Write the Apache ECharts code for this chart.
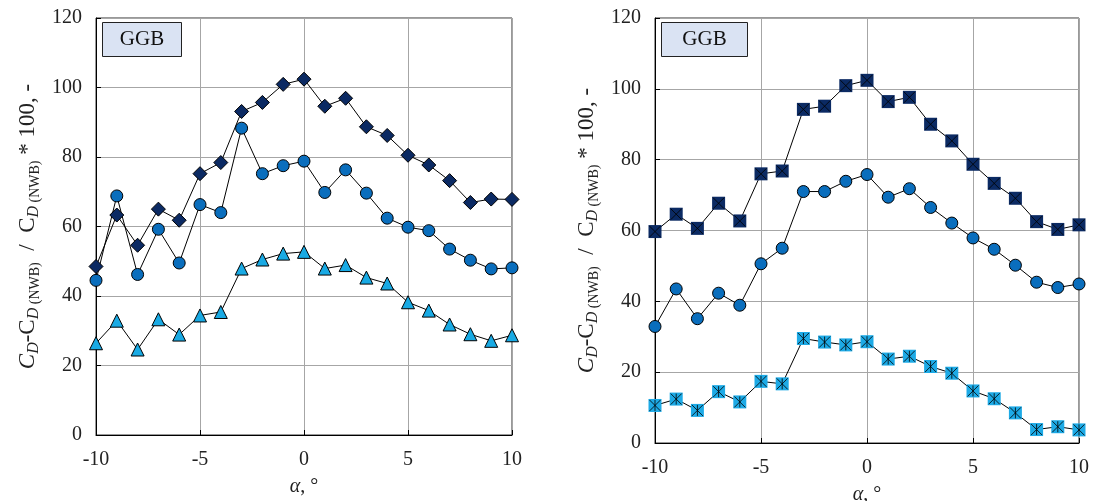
<!DOCTYPE html>
<html><head><meta charset="utf-8">
<script src="https://cdn.jsdelivr.net/npm/echarts@6/dist/echarts.min.js"></script>
<style>html,body{margin:0;padding:0;background:#fff}#c{width:1094px;height:501px}</style>
</head><body><div id="c"></div>
<script>
const alpha = [-10,-9,-8,-7,-6,-5,-4,-3,-2,-1,0,1,2,3,4,5,6,7,8,9,10];
const xTicks = [-10,-5,0,5,10];
const yTicks = [0,20,40,60,80,100,120];
const panelLabel = 'GGB';
// Left panel
const leftDiamond = [48.5,63.3,54.6,65,61.8,75.2,78.4,93.1,95.7,100.9,102.4,94.6,96.9,88.7,86.2,80.5,77.7,73.2,66.9,67.9,67.8];
const leftCircle  = [44.5,68.8,46.2,59.2,49.5,66.3,64,88.3,75.2,77.5,78.8,69.8,76.3,69.6,62.4,59.8,58.8,53.5,50.3,47.8,48.1];
const leftTri     = [26.4,32.9,24.6,33.3,28.9,34.4,35.4,47.9,50.5,52.2,52.7,47.9,48.9,45.3,43.6,38.2,35.8,31.8,29,27.1,28.7];
// Right panel
const rightSquareDark  = [59.7,64.6,60.6,67.7,62.7,76,76.8,94.2,95.1,100.9,102.4,96.4,97.6,90,85.3,78.7,73.3,69.1,62.5,60.3,61.6];
const rightCircle      = [32.9,43.5,35.1,42.3,38.9,50.6,55,71,71,73.9,75.8,69.4,71.8,66.5,62.1,57.9,54.7,50.2,45.4,43.9,44.9];
const rightSquareLight = [10.6,12.4,9.2,14.5,11.6,17.4,16.7,29.5,28.5,27.7,28.6,23.7,24.5,21.6,19.7,14.7,12.5,8.5,3.8,4.6,3.7];

const FONT = 'Liberation Serif';
const pairs = arr => alpha.map((a,i)=>[a,arr[i]]);

function xAxisCfg(gi){
  return {type:'value', gridIndex:gi, min:-10, max:10, interval:5,
    axisLine:{show:true,onZero:false,lineStyle:{color:'#000',width:1}},
    axisTick:{show:true,inside:true,length:5,lineStyle:{color:'#000'}},
    axisLabel:{color:'#222',fontFamily:FONT,fontSize:20,margin:15,formatter:v=>String(v)},
    splitLine:{show:true,lineStyle:{color:'#a6a6a6',width:1}},
    name:'{a|α}{n|, °}', nameLocation:'middle', nameGap:42,
    nameTextStyle:{rich:{a:{fontFamily:FONT,fontStyle:'italic',fontSize:20,color:'#222'},n:{fontFamily:FONT,fontSize:20,color:'#222'}}}
  };
}
function yAxisCfg(gi){
  return {type:'value', gridIndex:gi, min:0, max:120, interval:20,
    axisLine:{show:true,onZero:false,lineStyle:{color:'#000',width:1}},
    axisTick:{show:true,inside:true,length:5,lineStyle:{color:'#000'}},
    axisLabel:{color:'#222',fontFamily:FONT,fontSize:20,margin:14},
    splitLine:{show:true,lineStyle:{color:'#a6a6a6',width:1}},
    name:'{i|C}{s|D}{n|-C}{s|D}{ss| (NWB)}{n|  /  C}{s|D}{ss| (NWB)}{n| * 100, -}',
    nameLocation:'middle', nameGap:54, nameRotate:90,
    nameTextStyle:{rich:{
      i:{fontFamily:FONT,fontStyle:'italic',fontSize:23,color:'#222',lineHeight:28,verticalAlign:'middle'},
      n:{fontFamily:FONT,fontSize:23,color:'#222',lineHeight:28,verticalAlign:'middle'},
      s:{fontFamily:FONT,fontStyle:'italic',fontSize:16,color:'#222',lineHeight:28,verticalAlign:'bottom'},
      ss:{fontFamily:FONT,fontSize:14,color:'#222',lineHeight:28,verticalAlign:'bottom'}
    }}
  };
}
function lineSeries(gi,data,symbol,size,color,border){
  return {type:'line', xAxisIndex:gi, yAxisIndex:gi, data:pairs(data), symbol:symbol, symbolSize:size,
    lineStyle:{color:'#000',width:1}, itemStyle:{color:color,borderColor:border?'#000':color,borderWidth:border?1:0},
    emphasis:{disabled:true}, animation:false};
}
function glyphSeries(gi,data,path,size){
  return {type:'scatter', xAxisIndex:gi, yAxisIndex:gi, data:pairs(data), symbol:path, symbolSize:size,
    itemStyle:{color:'none',borderColor:'#000',borderWidth:1}, emphasis:{disabled:true}, animation:false, z:5};
}
function box(x,y,w,h){
  return {type:'group', left:x, top:y, z:100, children:[
    {type:'rect', shape:{x:0,y:0,width:w,height:h}, style:{fill:'#dae3f3',stroke:'#222',lineWidth:1}},
    {type:'text', style:{x:w/2,y:h/2,text:panelLabel,fill:'#111',font:'21px "'+FONT+'"',textAlign:'center',textVerticalAlign:'middle'}}
  ]};
}
const chart = echarts.init(document.getElementById('c'),null,{renderer:'canvas'});
chart.setOption({
  backgroundColor:'#fff', animation:false,
  grid:[
    {left:96,right:582,top:18,bottom:66,show:true,borderColor:'#333',borderWidth:1,containLabel:false,outerBoundsMode:'none'},
    {left:655,right:15,top:18,bottom:58,show:true,borderColor:'#333',borderWidth:1,containLabel:false,outerBoundsMode:'none'}
  ],
  xAxis:[xAxisCfg(0),xAxisCfg(1)],
  yAxis:[yAxisCfg(0),yAxisCfg(1)],
  series:[
    lineSeries(0,leftTri,'triangle',13,'#19aae4',true),
    lineSeries(0,leftCircle,'circle',12,'#0a6ebd',true),
    lineSeries(0,leftDiamond,'diamond',14,'#0b2a63',true),
    lineSeries(1,rightSquareLight,'rect',13,'#1daae6',false),
    glyphSeries(1,rightSquareLight,'path://M0,0L10,10M10,0L0,10M5,0L5,10',11),
    lineSeries(1,rightCircle,'circle',12,'#0a6ebd',true),
    lineSeries(1,rightSquareDark,'rect',13,'#0b2a63',false),
    glyphSeries(1,rightSquareDark,'path://M0,0L10,10M10,0L0,10',11)
  ],
  graphic:[box(102,22,79,34), box(661,22,86,34)]
});
</script></body></html>
